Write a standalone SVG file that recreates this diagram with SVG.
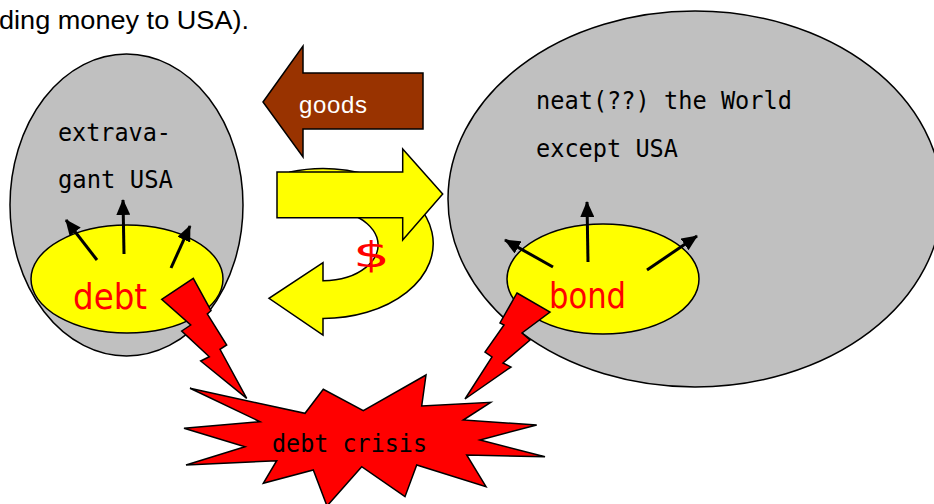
<svg xmlns="http://www.w3.org/2000/svg" width="934" height="504" viewBox="0 0 934 504">
<style>
.gray{fill:#C0C0C0;stroke:#000;stroke-width:1.5}
.yel{fill:#FFFF00;stroke:#000;stroke-width:1.5}
.red{fill:#FF0000;stroke:#000;stroke-width:1.5;stroke-linejoin:miter}
.lbl{font-family:"DejaVu Sans Mono","Liberation Mono",monospace;font-size:25px;fill:#000}
.big{font-family:"DejaVu Sans","Liberation Sans",sans-serif;font-size:36px;fill:#FF0000}
.arr{stroke:#000;stroke-width:3;fill:none;marker-end:url(#ah)}
</style>
<defs>
<marker id="ah" viewBox="0 0 16 14" refX="15" refY="7" markerWidth="16" markerHeight="14" markerUnits="userSpaceOnUse" orient="auto">
<path d="M0,0 L16,7 L0,14 Z" fill="#000"/>
</marker>
</defs>
<text x="-1" y="29" textLength="250" lengthAdjust="spacingAndGlyphs" font-family="Liberation Sans, Arial, sans-serif" font-size="26" fill="#000">ding money to USA).</text>

<g id="usa">
<ellipse class="gray" cx="126.5" cy="205" rx="116.5" ry="151"/>
<text class="lbl" x="58" y="141" textLength="113" lengthAdjust="spacingAndGlyphs">extrava-</text>
<text class="lbl" x="58" y="188" textLength="115" lengthAdjust="spacingAndGlyphs">gant USA</text>
</g>
<g id="debt">
<ellipse class="yel" cx="127" cy="279" rx="96" ry="54"/>
<text class="big" x="73" y="309" textLength="74" lengthAdjust="spacingAndGlyphs">debt</text>
</g>

<g id="world">
<ellipse class="gray" cx="695" cy="199" rx="247" ry="188"/>
<text class="lbl" x="536" y="109" textLength="256" lengthAdjust="spacingAndGlyphs">neat(??) the World</text>
<text class="lbl" x="536" y="157" textLength="142" lengthAdjust="spacingAndGlyphs">except USA</text>
</g>
<g id="bond">
<ellipse class="yel" cx="603" cy="279" rx="96" ry="55"/>
<text class="big" x="549" y="308" textLength="77" lengthAdjust="spacingAndGlyphs">bond</text>
</g>

<g id="connectors">
<line class="arr" x1="97" y1="260" x2="66" y2="220"/>
<line class="arr" x1="124" y1="254" x2="123" y2="200"/>
<line class="arr" x1="171" y1="268" x2="190" y2="226"/>
<line class="arr" x1="588" y1="262" x2="587" y2="202"/>
<line class="arr" x1="553" y1="267" x2="505" y2="240"/>
<line class="arr" x1="647" y1="270" x2="697" y2="236"/>
</g>

<g id="goods">
<path d="M263,102 L303,46 L303,73 L423,73 L423,129 L303,129 L303,157 Z" fill="#993300" stroke="#000" stroke-width="1.5"/>
<text x="299" y="113" textLength="68" font-family="Liberation Sans, Arial, sans-serif" font-size="24" fill="#FFFFFF">goods</text>
</g>

<g id="money">
<path class="yel" d="M290,172 A110,75 0 1 1 323,318.5 L323,335 L269,298.3 L323,262.7 L323,280.7 A55,35.7 0 1 0 300,212.6 Z"/>
<path class="yel" d="M277,172 L402.7,172 L402.7,149 L442.7,194 L402.7,240 L402.7,217.7 L277,217.7 Z"/>
<text x="353" y="267" textLength="37" lengthAdjust="spacingAndGlyphs" font-family="DejaVu Sans, sans-serif" font-size="35" fill="#FF0000">$</text>
</g>

<g id="bolt-left">
<path class="red" d="M161.7,299.3 L193.3,278.3 L211,310.7 L207.3,314 L226.7,345 L220,349.3 L246.7,398.3 L200.7,361 L209.3,356.7 L181.7,331 L190.7,325 Z"/>
</g>
<g id="bolt-right">
<path class="red" d="M517,293 L550,312 L522,333 L530,340 L503,363 L511,367 L465,399 L492,357 L485,352 L504,325 L500,323 Z"/>
</g>

<g id="crisis">
<path class="red" d="M190,388.3 L305,413.3 L323.3,389.3 L363.3,410.7 L426,375 L421.7,406 L490.7,402.3 L463.3,420 L536.7,425 L480,440 L545,456.7 L466.7,455 L486,486.7 L416.7,465 L405,496.7 L361.7,466.7 L327,506 L313.3,470 L263.3,483.3 L276.7,460.7 L186,465 L245,446.7 L184,428.3 L260,421.7 Z"/>
<text class="lbl" x="272" y="452" textLength="155" lengthAdjust="spacingAndGlyphs">debt crisis</text>
</g>
</svg>
